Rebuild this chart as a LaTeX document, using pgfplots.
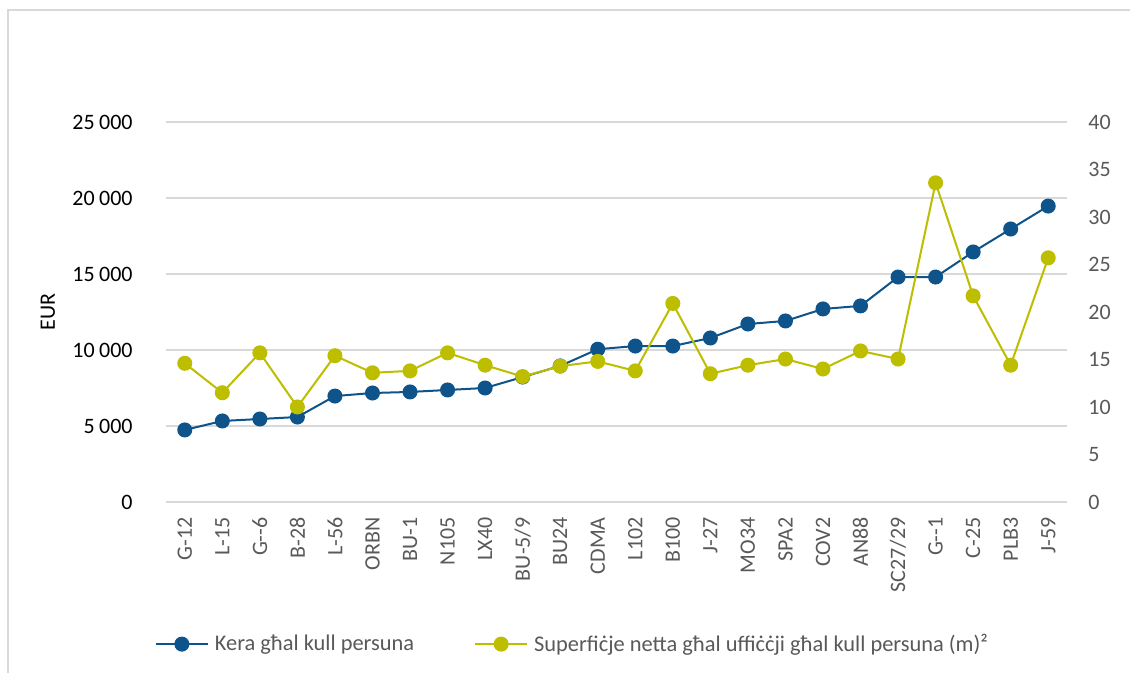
\documentclass[border=0pt]{standalone}
\usepackage{fontspec}
\setmainfont{Carlito}
\usepackage{pgfplots}
\pgfplotsset{compat=1.18}
\definecolor{kblue}{RGB}{14,84,138}
\definecolor{kyel}{RGB}{190,190,0}
\definecolor{gridc}{RGB}{217,217,217}
\definecolor{txtg}{RGB}{89,89,89}

\pgfplotstableread{
x val
0 4740
1 5330
2 5460
3 5590
4 6970
5 7170
6 7240
7 7370
8 7500
9 8220
10 8950
11 10050
12 10260
13 10260
14 10790
15 11710
16 11910
17 12700
18 12900
19 14800
20 14800
21 16450
22 17960
23 19470
}\kera

\pgfplotstableread{
x val
0 14.6
1 11.5
2 15.7
3 10.0
4 15.4
5 13.6
6 13.8
7 15.7
8 14.4
9 13.2
10 14.3
11 14.8
12 13.8
13 20.9
14 13.5
15 14.4
16 15.05
17 14.0
18 15.9
19 15.05
20 33.6
21 21.7
22 14.4
23 25.7
}\superficje

\begin{document}
\begin{tikzpicture}
\path[use as bounding box] (-83pt,-85.5pt) rectangle (482pt,251pt);
\fill[white] (-83pt,-85.5pt) rectangle (482pt,251pt);
\draw[gridc, line width=0.75pt] (-79pt,-85.5pt) -- (-79pt,246pt) -- (482pt,246pt);

\pgfplotsset{
  base/.style={
    scale only axis,
    width=450.5pt, height=190pt,
    xmin=-0.5, xmax=23.5,
    font=\fontsize{11}{12}\selectfont,
    /pgf/number format/assume math mode=true,
    tick style={draw=none},
  },
}

\begin{axis}[base,
  ymin=0, ymax=25000,
  ytick={0,5000,...,25000},
  scaled y ticks=false,
  yticklabel style={/pgf/number format/1000 sep={\hspace{0.2em}}, anchor=east, inner sep=0pt, xshift=-16.5pt, text=black},
  ymajorgrids, grid style={gridc, line width=0.75pt},
  axis line style={draw=none},
  xtick={0,...,23},
  xticklabels={G-12,L-15,G-{}-6,B-28,L-56,ORBN,BU-1,N105,LX40,BU-5/9,BU24,CDMA,L102,B100,J-27,MO34,SPA2,COV2,AN88,SC27/29,G-{}-1,C-25,PLB3,J-59},
  xticklabel style={rotate=90, anchor=east, inner sep=0pt, text=txtg},
  xticklabel shift=7.5pt,
  ylabel={EUR},
  ylabel style={at={(axis description cs:-0.131,0.5)}, anchor=center, text=black},
]
\addplot[kblue, line width=1pt, mark=*, mark size=3.25pt, mark options={fill=kblue, draw=kblue}] table[x=x, y=val] {\kera};
\end{axis}

\begin{axis}[base,
  ymin=0, ymax=40,
  ytick={0,5,...,40},
  axis y line*=right,
  axis x line=none,
  y axis line style={draw=none},
  yticklabel style={anchor=west, inner sep=0pt, xshift=10.5pt, text=txtg},
  legend columns=2,
  legend style={draw=none, fill=none, inner sep=0pt,
    at={(axis description cs:-0.0128,-0.374)}, anchor=west,
    font=\fontsize{11.2}{13}\selectfont, text=txtg,
    nodes={inner sep=0pt},
    /tikz/every odd column/.append style={column sep=3pt},
    /tikz/every even column/.append style={column sep=30pt}},
  legend cell align=left,
  legend image code/.code={\draw[mark repeat=2, mark phase=2] plot coordinates {(0pt,0pt) (13pt,0pt) (26pt,0pt)};},
]
\addlegendimage{kblue, line width=1pt, mark=*, mark size=3.25pt, mark options={fill=kblue, draw=kblue}}
\addlegendentry{Kera għal kull persuna}
\addplot[kyel, line width=1pt, mark=*, mark size=3.25pt, mark options={fill=kyel, draw=kyel}] table[x=x, y=val] {\superficje};
\addlegendentry{Superfiċje netta għal uffiċċji għal kull persuna (m)²}
\end{axis}
\end{tikzpicture}
\end{document}
